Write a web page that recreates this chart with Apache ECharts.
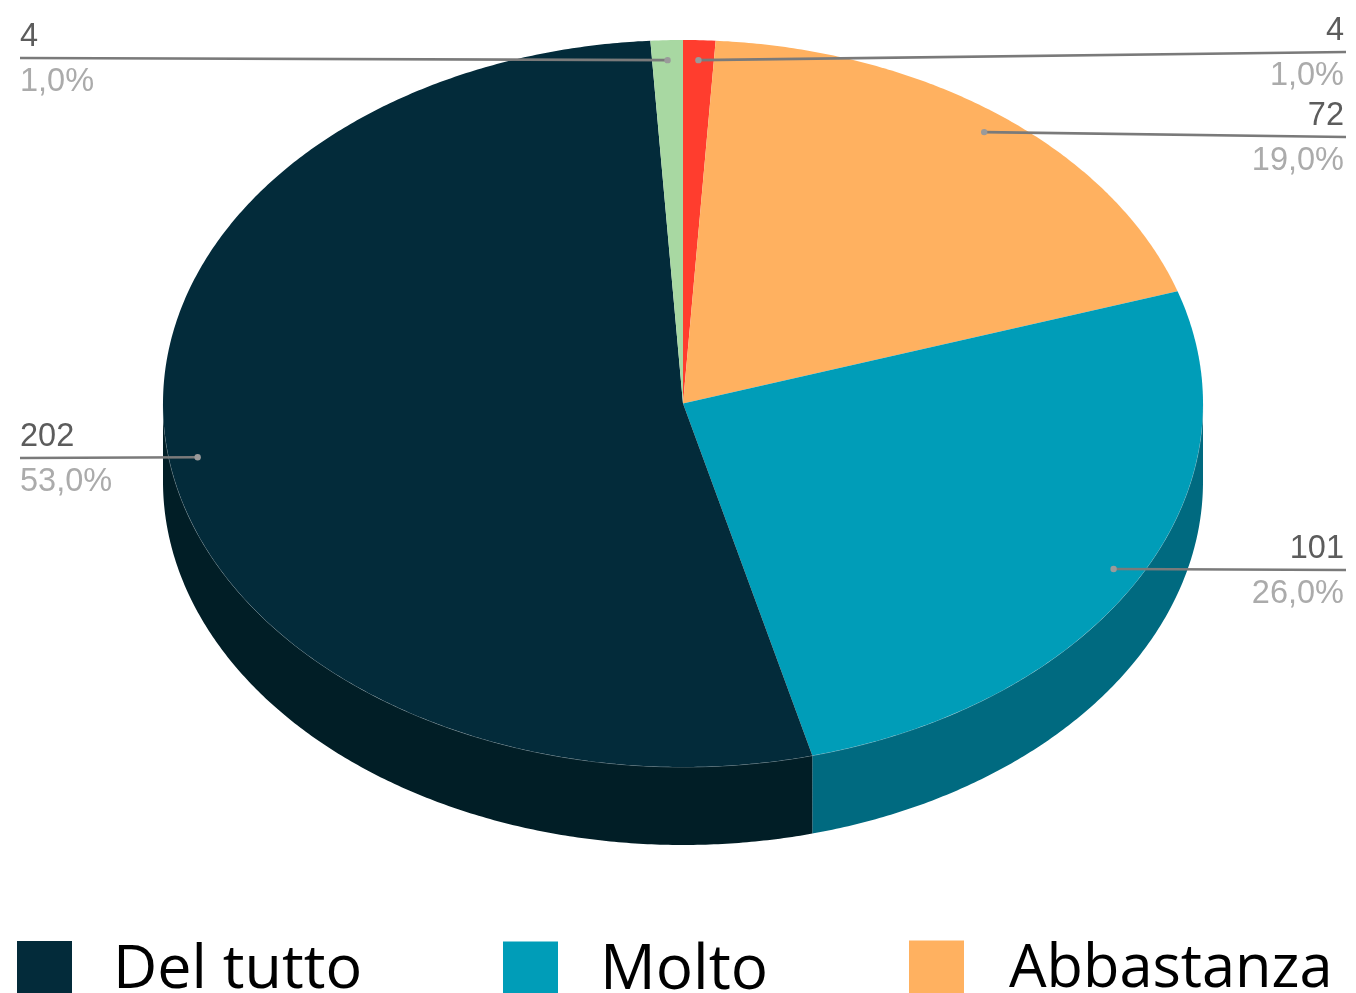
<!DOCTYPE html>
<html><head><meta charset="utf-8">
<style>html,body{margin:0;padding:0;background:#fff;overflow:hidden}#c{width:1356px;height:993px}</style>
<script src="https://cdn.jsdelivr.net/npm/echarts@6/dist/echarts.min.js"></script>
</head><body><div id="c"></div>
<script>
// Data, in clockwise order from 12 o'clock
const categories = ['Voce 4', 'Abbastanza', 'Molto', 'Del tutto', 'Voce 5'];
const values = [4, 72, 101, 202, 4];
const percents = [1, 19, 26, 53, 1];
const percentLabels = ['1,0%', '19,0%', '26,0%', '53,0%', '1,0%'];
const legendCategories = ['Del tutto', 'Molto', 'Abbastanza'];
// Style
const topColors = ['#FF3D2E', '#FFB160', '#009DB8', '#032B3A', '#A8D8A2'];
const sideColors = ['#B32B20', '#B37C43', '#006A80', '#011E26', '#76977A'];
// Layout of the tilted pie, its leaders and the legend
const CX = 683, CY = 403.5, RX = 520, RY = 363.5, DEPTH = 78, LEADER_K = 0.945;
const labelEnds = [[1346, 52, 'right'], [1346, 137, 'right'], [1346, 570, 'right'], [20, 458, 'left'], [20, 58, 'left']];
const legendLeft = [17, 503, 909];
const legendTextGap = [36, 37, 40];
const legendFontSize = [61, 62, 59.5];

const total = percents.reduce((a, b) => a + b, 0);
const starts = [];
percents.reduce((acc, v, i) => { starts[i] = acc; return acc + v; }, 0);
const rad = v => v / total * Math.PI * 2;
const rim = (a, k = 1, dy = 0) => [CX + Math.sin(a) * RX * k, CY - Math.cos(a) * RY * k + dy];
const arc = (a0, a1, dy = 0) => {
  const n = Math.max(2, Math.ceil((a1 - a0) / 0.008)), pts = [];
  for (let j = 0; j <= n; j++) pts.push(rim(a0 + (a1 - a0) * j / n, 1, dy));
  return pts;
};

function renderSlice(i) {
  return function () {
    const a0 = rad(starts[i]), a1 = rad(starts[i] + percents[i]);
    const children = [];
    const s0 = Math.max(a0, Math.PI / 2), s1 = Math.min(a1, Math.PI * 1.5);
    if (s1 > s0) {
      const upper = arc(s0, s1), lower = arc(s0, s1, DEPTH).reverse();
      children.push({ type: 'polygon', shape: { points: upper.concat(lower) },
        style: { fill: sideColors[i], stroke: null } });
      children.push({ type: 'polyline', shape: { points: upper },
        style: { fill: null, stroke: 'rgba(205,215,220,0.42)', lineWidth: 1 } });
      if (a1 <= Math.PI * 1.5 && a0 >= Math.PI / 2) {
        children.push({ type: 'line', shape: { x1: rim(a1)[0], y1: rim(a1)[1], x2: rim(a1)[0], y2: rim(a1)[1] + DEPTH },
          style: { stroke: 'rgba(150,165,170,0.6)', lineWidth: 2 } });
      }
    }
    children.push({ type: 'polygon', shape: { points: [[CX, CY]].concat(arc(a0, a1)) },
      style: { fill: topColors[i], stroke: null } });
    return { type: 'group', children };
  };
}

function renderLabels(params) {
  const i = params.dataIndex;
  const mid = rad(starts[i] + percents[i] / 2);
  const p = rim(mid, LEADER_K);
  const [ex, ey, align] = labelEnds[i];
  const tx = align === 'right' ? ex - 2 : ex;
  const common = { x: tx, fontFamily: '"Liberation Sans", Arial, sans-serif', fontSize: 32.5, align };
  return { type: 'group', children: [
    { type: 'line', shape: { x1: p[0], y1: p[1], x2: ex, y2: ey }, style: { stroke: '#7a7a7a', lineWidth: 2.6 } },
    { type: 'circle', shape: { cx: p[0], cy: p[1], r: 3.2 }, style: { fill: '#9a9a9a' } },
    { type: 'text', style: { ...common, y: ey - 4, verticalAlign: 'bottom', text: String(values[i]), fill: '#5c5c5c' } },
    { type: 'text', style: { ...common, y: ey + 8, verticalAlign: 'top', text: percentLabels[i], fill: '#ababab' } }
  ] };
}

const series = categories.map((name, i) => ({
  type: 'custom', name, coordinateSystem: 'none', silent: true, animation: false, z: 2,
  itemStyle: { color: topColors[i] }, data: [values[i]], renderItem: renderSlice(i)
}));
series.push({ type: 'custom', coordinateSystem: 'none', silent: true, animation: false, z: 5,
  data: values.map(v => [v]), renderItem: renderLabels });

const chart = echarts.init(document.getElementById('c'), null, { renderer: 'canvas' });
chart.setOption({
  animation: false, backgroundColor: '#fff',
  legend: legendCategories.map((name, i) => ({
    data: [name], left: legendLeft[i], top: 940, padding: 0, icon: 'rect', itemWidth: 55, itemHeight: 55,
    selectedMode: false,
    formatter: '{a|{name}}',
    textStyle: { rich: { a: { fontFamily: '"Open Sans", "Noto Sans", sans-serif', fontSize: legendFontSize[i], color: '#000',
      padding: [4, 0, 0, legendTextGap[i]] } } }
  })),
  series
});
</script></body></html>
